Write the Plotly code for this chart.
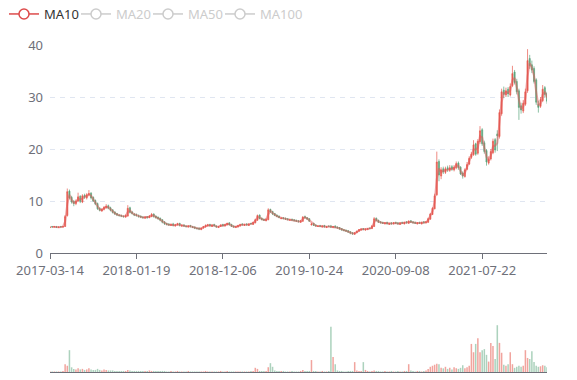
import plotly.graph_objects as go
import pandas as pd

# ---------------- data (one candle ≈ one trading week) ----------------
tick_labels = ["2017-03-14", "2018-01-19", "2018-12-06", "2019-10-24", "2020-09-08", "2021-07-22"]
legend_names = ["MA10", "MA20", "MA50", "MA100"]

opens = [
    4.9, 5.1, 5.0, 5.1, 4.9, 5.1, 5.0, 5.1, 7.2, 11.9,
    10.7, 9.9, 9.5, 10.0, 10.9, 9.8, 11.1, 10.6, 11.2, 11.5,
    10.7, 10.1, 9.5, 8.6, 8.1, 8.4, 8.7, 9.1, 8.7, 8.3,
    7.9, 7.6, 7.3, 7.2, 7.1, 6.9, 7.1, 8.7, 7.9, 7.5,
    7.4, 7.2, 7.1, 6.9, 6.7, 7.0, 6.8, 7.0, 7.5, 7.1,
    6.9, 6.7, 6.4, 6.0, 5.7, 5.6, 5.3, 5.6, 5.2, 5.4,
    5.7, 5.2, 5.4, 5.2, 5.0, 5.3, 5.1, 5.0, 4.8, 4.8,
    4.5, 4.8, 5.0, 5.2, 5.5, 5.1, 5.5, 5.2, 4.9, 5.1,
    5.5, 5.2, 5.4, 5.8, 5.5, 5.2, 4.9, 5.0, 5.2, 5.6,
    5.3, 5.6, 5.3, 5.7, 5.5, 5.8, 6.3, 7.3, 6.7, 6.5,
    6.2, 6.4, 8.4, 8.0, 7.6, 7.3, 7.1, 6.6, 6.8, 6.7,
    6.6, 6.3, 6.5, 6.4, 6.3, 6.2, 5.9, 6.1, 7.0, 6.8,
    6.6, 5.4, 5.7, 5.4, 5.1, 5.3, 5.0, 5.3, 4.9, 5.2,
    5.2, 4.9, 5.2, 5.0, 4.9, 4.7, 4.5, 4.4, 4.3, 4.1,
    3.9, 3.6, 3.9, 4.2, 4.4, 4.7, 4.4, 4.5, 4.8, 4.7,
    5.1, 6.7, 6.3, 6.0, 5.9, 5.6, 5.9, 5.5, 5.8, 5.6,
    5.9, 5.8, 5.5, 5.9, 5.6, 6.0, 5.7, 6.2, 6.0, 5.9,
    5.6, 5.9, 5.6, 6.0, 5.8, 5.9, 6.5, 7.4, 8.5, 11.2,
    17.6, 14.8, 16.2, 15.5, 16.4, 15.9, 16.6, 16.0, 16.4, 17.3,
    16.5, 15.4, 14.7, 16.1, 17.1, 18.4, 18.9, 21.0, 19.2, 21.4,
    23.7, 21.2, 19.7, 17.3, 18.1, 19.3, 21.8, 22.9, 22.4, 26.8,
    31.3, 30.4, 31.5, 30.4, 32.2, 34.8, 33.0, 31.2, 28.3, 27.3,
    28.6, 31.2, 37.4, 36.2, 35.5, 33.3, 28.6, 28.2, 29.3, 31.8, 30.7,
]

highs = [
    5.1, 5.2, 5.2, 5.2, 5.1, 5.2, 5.2, 7.3, 12.4, 12.2,
    11.0, 10.2, 10.3, 11.6, 11.1, 11.3, 11.4, 11.5, 12.1, 11.7,
    10.9, 10.3, 9.7, 8.8, 8.6, 9.0, 9.4, 9.3, 8.9, 8.4,
    8.0, 7.7, 7.5, 7.4, 7.2, 7.4, 9.2, 8.9, 8.1, 7.7,
    7.6, 7.4, 7.2, 7.1, 7.1, 7.1, 7.3, 7.7, 7.6, 7.2,
    7.0, 6.8, 6.5, 6.1, 5.8, 5.7, 5.7, 5.8, 5.6, 5.8,
    5.8, 5.5, 5.5, 5.3, 5.3, 5.4, 5.2, 5.1, 4.9, 4.9,
    4.9, 5.2, 5.5, 5.6, 5.6, 5.5, 5.6, 5.3, 5.2, 5.5,
    5.6, 5.6, 5.8, 5.9, 5.6, 5.3, 5.2, 5.4, 5.6, 5.7,
    5.6, 5.7, 5.7, 5.8, 6.0, 6.6, 7.4, 7.4, 6.8, 6.6,
    6.7, 8.6, 8.5, 8.1, 7.7, 7.4, 7.2, 6.9, 6.9, 6.8,
    6.7, 6.6, 6.6, 6.5, 6.4, 6.3, 6.3, 7.1, 7.2, 6.9,
    6.7, 5.8, 5.8, 5.5, 5.3, 5.4, 5.3, 5.4, 5.2, 5.3,
    5.4, 5.2, 5.3, 5.1, 5.0, 4.8, 4.6, 4.5, 4.4, 4.2,
    4.0, 4.0, 4.3, 4.6, 4.7, 4.8, 4.7, 4.8, 4.9, 5.4,
    6.9, 6.8, 6.4, 6.1, 6.0, 5.9, 6.0, 5.8, 5.9, 5.9,
    6.0, 5.9, 5.9, 6.0, 6.0, 6.1, 6.3, 6.3, 6.1, 6.0,
    5.9, 6.0, 6.0, 6.1, 6.1, 6.8, 7.7, 8.8, 11.4, 19.5,
    18.0, 16.5, 16.6, 16.6, 16.8, 16.9, 16.9, 16.9, 17.6, 17.6,
    16.7, 15.7, 16.3, 17.5, 18.6, 19.4, 21.7, 21.2, 21.9, 24.4,
    24.0, 21.6, 20.0, 18.6, 20.0, 22.0, 22.1, 23.6, 27.6, 31.6,
    32.0, 31.8, 31.9, 32.6, 36.0, 35.2, 33.5, 31.6, 28.9, 29.4,
    31.6, 39.2, 38.1, 37.0, 35.9, 33.6, 29.3, 30.0, 32.3, 32.1, 31.0,
]

lows = [
    4.8, 4.9, 4.9, 4.8, 4.8, 4.9, 4.9, 5.0, 7.0, 10.3,
    9.5, 9.0, 9.2, 9.8, 9.6, 9.6, 10.4, 10.3, 10.9, 10.3,
    9.8, 9.2, 8.3, 8.0, 7.9, 8.2, 8.5, 8.4, 8.0, 7.6,
    7.3, 7.1, 7.0, 6.9, 6.8, 6.8, 7.0, 7.6, 7.4, 7.1,
    7.0, 6.8, 6.7, 6.6, 6.6, 6.6, 6.7, 6.9, 6.8, 6.6,
    6.4, 6.1, 5.7, 5.4, 5.3, 5.2, 5.2, 5.1, 5.1, 5.3,
    5.1, 5.0, 5.0, 4.9, 4.9, 4.9, 4.8, 4.6, 4.5, 4.4,
    4.4, 4.7, 4.9, 5.1, 5.1, 5.0, 5.1, 4.9, 4.8, 5.0,
    5.1, 5.1, 5.3, 5.3, 5.0, 4.9, 4.8, 4.9, 5.1, 5.3,
    5.2, 5.3, 5.2, 5.5, 5.4, 5.7, 6.2, 6.5, 6.3, 6.2,
    6.1, 6.3, 7.7, 7.3, 7.1, 6.9, 6.7, 6.5, 6.5, 6.4,
    6.3, 6.2, 6.2, 6.1, 6.0, 5.9, 5.8, 6.0, 6.6, 6.4,
    6.0, 5.3, 5.2, 5.1, 5.0, 5.0, 4.9, 4.9, 4.8, 5.0,
    4.8, 4.8, 4.8, 4.7, 4.5, 4.3, 4.2, 4.1, 3.9, 3.6,
    3.5, 3.5, 3.8, 4.1, 4.3, 4.4, 4.3, 4.4, 4.6, 4.6,
    5.0, 6.1, 5.8, 5.7, 5.6, 5.5, 5.5, 5.4, 5.5, 5.5,
    5.6, 5.5, 5.4, 5.6, 5.5, 5.7, 5.6, 5.8, 5.7, 5.6,
    5.5, 5.6, 5.5, 5.7, 5.7, 5.8, 6.4, 7.3, 8.4, 11.0,
    13.8, 14.2, 15.2, 15.2, 15.6, 15.6, 15.8, 15.7, 16.1, 16.0,
    15.0, 14.3, 14.5, 15.9, 16.9, 18.1, 18.7, 18.7, 18.9, 21.0,
    20.6, 19.1, 16.8, 17.0, 17.8, 19.0, 19.3, 19.6, 22.0, 26.4,
    29.8, 30.0, 30.0, 30.1, 31.9, 32.4, 30.5, 25.6, 26.8, 26.9,
    28.3, 30.8, 35.4, 34.6, 32.6, 28.5, 27.0, 27.9, 29.0, 29.9, 28.7,
]

closes = [
    5.0, 5.0, 5.1, 4.9, 5.0, 5.0, 5.1, 7.0, 11.8, 10.6,
    9.8, 9.5, 10.0, 10.8, 9.9, 11.0, 10.7, 11.2, 11.4, 10.6,
    10.0, 9.4, 8.5, 8.2, 8.4, 8.8, 9.0, 8.6, 8.2, 7.8,
    7.5, 7.3, 7.2, 7.1, 7.0, 7.2, 8.6, 7.8, 7.6, 7.3,
    7.2, 7.0, 6.9, 6.8, 6.9, 6.8, 7.1, 7.4, 7.0, 6.8,
    6.6, 6.3, 5.9, 5.6, 5.5, 5.4, 5.5, 5.3, 5.4, 5.6,
    5.3, 5.3, 5.2, 5.1, 5.2, 5.1, 4.9, 4.8, 4.7, 4.6,
    4.8, 5.1, 5.3, 5.4, 5.2, 5.4, 5.2, 5.0, 5.1, 5.4,
    5.2, 5.5, 5.7, 5.4, 5.1, 5.0, 5.1, 5.3, 5.5, 5.4,
    5.5, 5.4, 5.6, 5.6, 5.9, 6.4, 7.2, 6.6, 6.4, 6.3,
    6.5, 8.3, 7.9, 7.5, 7.2, 7.0, 6.8, 6.7, 6.6, 6.5,
    6.4, 6.4, 6.3, 6.2, 6.1, 6.0, 6.2, 6.9, 6.8, 6.5,
    6.1, 5.6, 5.3, 5.2, 5.2, 5.1, 5.2, 5.0, 5.1, 5.1,
    5.0, 5.1, 4.9, 4.8, 4.6, 4.4, 4.3, 4.2, 4.0, 3.8,
    3.7, 3.9, 4.2, 4.5, 4.6, 4.5, 4.6, 4.7, 4.7, 5.2,
    6.6, 6.2, 5.9, 5.8, 5.7, 5.8, 5.6, 5.7, 5.6, 5.8,
    5.7, 5.6, 5.8, 5.7, 5.9, 5.8, 6.1, 5.9, 5.8, 5.7,
    5.8, 5.7, 5.9, 5.8, 6.0, 6.6, 7.5, 8.6, 11.0, 17.5,
    15.0, 16.0, 15.6, 16.2, 16.0, 16.4, 16.1, 16.5, 17.2, 16.4,
    15.2, 14.8, 16.0, 17.0, 18.2, 19.0, 20.8, 19.0, 21.5, 23.5,
    21.0, 19.5, 17.5, 18.0, 19.5, 21.5, 19.8, 22.5, 27.0, 31.0,
    30.5, 31.2, 30.6, 32.0, 34.5, 32.8, 31.0, 28.0, 27.5, 28.8,
    31.0, 37.0, 36.0, 35.2, 33.0, 29.0, 28.0, 29.5, 31.5, 30.5, 29.2,
]

volumes = [
    1, 1, 1, 1, 1, 1, 2, 15, 12, 42,
    9, 6, 5, 7, 5, 6, 4, 5, 7, 5,
    4, 4, 6, 4, 3, 5, 4, 3, 3, 3,
    2, 2, 2, 2, 2, 2, 4, 3, 2, 2,
    2, 2, 2, 2, 2, 2, 3, 2, 2, 2,
    2, 2, 2, 2, 1, 1, 2, 1, 1, 2,
    1, 1, 1, 1, 2, 1, 1, 1, 1, 1,
    1, 1, 2, 1, 1, 1, 1, 1, 1, 2,
    1, 1, 2, 1, 1, 1, 1, 1, 1, 1,
    1, 1, 1, 2, 2, 8, 6, 2, 2, 2,
    2, 9, 17, 10, 3, 2, 2, 2, 2, 1,
    1, 1, 2, 1, 1, 1, 2, 4, 2, 2,
    2, 23, 2, 2, 1, 1, 2, 1, 1, 2,
    87, 29, 15, 3, 2, 2, 1, 1, 2, 2,
    2, 19, 3, 2, 2, 19, 4, 2, 1, 2,
    3, 2, 2, 1, 1, 2, 1, 1, 2, 1,
    1, 2, 1, 1, 2, 2, 15, 3, 2, 1,
    2, 2, 1, 2, 3, 6, 10, 12, 14, 16,
    15, 8, 7, 10, 6, 8, 5, 9, 7, 6,
    8, 13, 7, 9, 12, 54, 38, 54, 65, 38,
    42, 44, 33, 20, 56, 50, 25, 90, 56, 37,
    14, 12, 15, 38, 15, 8, 10, 12, 10, 12,
    42, 27, 25, 40, 19, 12, 10, 11, 13, 12, 9,
]

n = len(closes)
assert len(opens) == n and len(highs) == n and len(lows) == n and len(volumes) == n

idx = list(range(n))
label_every = 40                     # one date label every 40 candles
tick_pos = [k * label_every for k in range(len(tick_labels))]

ma_window = 2                        # each candle ≈ 5 sessions → MA10 ≈ 2 candles
ma10 = pd.Series(closes).rolling(ma_window).mean()

UP = "#e65a4f"
DOWN = "#5aa57c"
vol_colors = [
    "rgba(230,90,79,0.55)" if c >= o else "rgba(90,165,124,0.5)"
    for o, c in zip(opens, closes)
]

FONT = "Noto Sans"
AX = "#6E7079"

fig = go.Figure()

fig.add_trace(go.Candlestick(
    x=idx, open=opens, high=highs, low=lows, close=closes,
    increasing=dict(line=dict(color=UP, width=0.7), fillcolor=UP),
    decreasing=dict(line=dict(color=DOWN, width=0.7), fillcolor=DOWN),
    whiskerwidth=0, showlegend=False, xaxis="x", yaxis="y",
))

fig.add_trace(go.Scatter(
    x=idx, y=ma10, mode="lines",
    line=dict(color="rgba(226,88,88,0.5)", width=2),
    showlegend=False, xaxis="x", yaxis="y",
))

fig.add_trace(go.Bar(
    x=idx, y=volumes, marker=dict(color=vol_colors, line=dict(width=0)),
    showlegend=False, xaxis="x2", yaxis="y2",
))

# legend entries
legend_colors = ["#dd4b4b", "#cccccc", "#cccccc", "#cccccc"]
for i, (nm, col) in enumerate(zip(legend_names, legend_colors)):
    label = nm if i == 0 else f'<span style="color:{col}">{nm}</span>'
    fig.add_trace(go.Scatter(
        x=[None], y=[None], mode="lines+markers", name=label,
        line=dict(color=col, width=1.5),
        marker=dict(symbol="circle", size=10, color="white",
                    line=dict(color=col, width=1.5)),
        legendwidth=27 if i < len(legend_names) - 1 else 60,
        xaxis="x", yaxis="y",
    ))

W, H = 577, 380
ML, MR, MT, MB = 50, 30, 45, 8
ph = H - MT - MB

fig.update_layout(
    width=W, height=H,
    margin=dict(l=ML, r=MR, t=MT, b=MB, autoexpand=False),
    paper_bgcolor="white", plot_bgcolor="white",
    font=dict(family=FONT, size=13, color="#333"),
    bargap=0.3,
    showlegend=True,
    legend=dict(
        orientation="h", xref="container", yref="container",
        x=4 / W, xanchor="left", y=1 - 14 / H, yanchor="middle",
        font=dict(size=13, color="#333"),
        bgcolor="rgba(0,0,0,0)", itemclick=False,
        itemdoubleclick=False,
    ),
    xaxis=dict(
        domain=[0, 1], anchor="y", range=[0, n - 1],
        showline=True, linecolor=AX, linewidth=1,
        ticks="outside", ticklen=5, tickcolor=AX,
        tickvals=tick_pos, ticktext=tick_labels,
        tickfont=dict(size=13, color=AX),
        showgrid=False, zeroline=False,
        rangeslider=dict(visible=False),
    ),
    yaxis=dict(
        domain=[(H - MB - 253) / ph, 1], anchor="x", range=[0, 40],
        tickvals=[0, 10, 20, 30, 40],
        tickfont=dict(size=13, color=AX),
        showgrid=True, gridcolor="#E0E6F1", griddash="5px,5px",
        zeroline=False, showline=False, ticks="", ticklabelstandoff=6,
    ),
    xaxis2=dict(
        domain=[0, 1], anchor="y2", matches="x",
        showline=True, linecolor=AX, linewidth=1,
        showticklabels=False, ticks="", showgrid=False, zeroline=False,
    ),
    yaxis2=dict(
        domain=[0, (H - MB - 320) / ph], anchor="x2", range=[0, 100],
        showticklabels=False, showgrid=False, zeroline=False, showline=False,
    ),
)

fig.write_html(
    "out.html",
    config={"displayModeBar": False},
    post_script="document.body.style.margin='0';",
)
